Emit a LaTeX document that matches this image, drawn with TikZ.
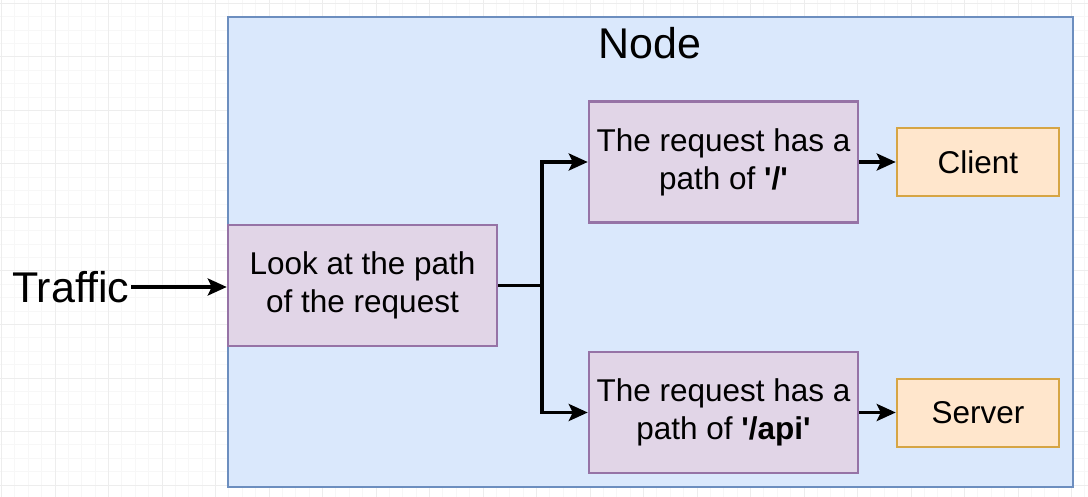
\documentclass[tikz,border=0pt]{standalone}
\usepackage{fontspec}
\setmainfont{Liberation Sans}[Ligatures={TeX,NoCommon}]
\usetikzlibrary{arrows.meta}
\definecolor{contfill}{HTML}{DAE8FC}
\definecolor{contdraw}{HTML}{6C8EBF}
\definecolor{purfill}{HTML}{E1D5E7}
\definecolor{purdraw}{HTML}{9673A6}
\definecolor{orfill}{HTML}{FFE6CC}
\definecolor{ordraw}{HTML}{D6A544}
\definecolor{gridminor}{HTML}{F7F7F7}
\definecolor{gridmajor}{HTML}{EDEDED}
\tikzset{
  body/.style={font=\fontsize{31.5}{38}\selectfont},
  purbox/.style={draw=purdraw, fill=purfill, line width=2.5pt, minimum width=269pt, minimum height=121pt, inner sep=0pt, align=center, body},
  orbox/.style={draw=ordraw, fill=orfill, line width=2.5pt, minimum width=162pt, minimum height=68pt, inner sep=0pt, align=center, body},
  arr/.style={line width=3.5pt, -{Stealth[length=19pt,width=17pt,inset=4pt]}},
}
\begin{document}
\begin{tikzpicture}[x=1pt,y=-1pt]
\useasboundingbox (0,0) rectangle (1088,497);
\fill[white] (0,0) rectangle (1088,497);
% grid
\foreach \i in {0,...,81} {
  \draw[gridminor, line width=1pt] ({1.5+13.375*\i},0) -- ({1.5+13.375*\i},497);
}
\foreach \j in {0,...,37} {
  \draw[gridminor, line width=1pt] (0,{3.5+13.375*\j}) -- (1088,{3.5+13.375*\j});
}
\foreach \i in {0,...,20} {
  \draw[gridmajor, line width=1pt] ({1.5+53.5*\i},0) -- ({1.5+53.5*\i},497);
}
\foreach \j in {0,...,9} {
  \draw[gridmajor, line width=1pt] (0,{3.5+53.5*\j}) -- (1088,{3.5+53.5*\j});
}
% container
\node[draw=contdraw, fill=contfill, line width=2.5pt, minimum width=845pt, minimum height=470pt, inner sep=0pt] (cont) at (650.5,252) {};
\node[font=\fontsize{43}{50}\selectfont] (title) at (650,43) {Node};
% boxes
\node[purbox] (look) at (362.5,285.5) {Look at the path\\of the request};
\node[purbox] (req1) at (723.5,162) {The request has a\\path of \textbf{\textquotesingle/\textquotesingle}};
\node[purbox] (req2) at (723.5,412.5) {The request has a\\path of \textbf{\textquotesingle/api\textquotesingle}};
\node[orbox] (client) at (978,162) {Client};
\node[orbox] (server) at (978,413) {Server};
\node[font=\fontsize{43}{50}\selectfont, inner sep=1.5pt, anchor=east] (traffic) at (131,287) {Traffic};
% connectors
\coordinate (split) at (542,285.5);
\draw[arr] (traffic.east) -- (look.west |- traffic.east);
\draw[line width=3.5pt] (look.east) -- (split);
\draw[arr] (split) |- (req1.west);
\draw[arr] (split) |- (req2.west);
\draw[arr] (req1.east) -- (client.west);
\draw[arr] (req2.east) -- (server.west |- req2.east);
\end{tikzpicture}
\end{document}
